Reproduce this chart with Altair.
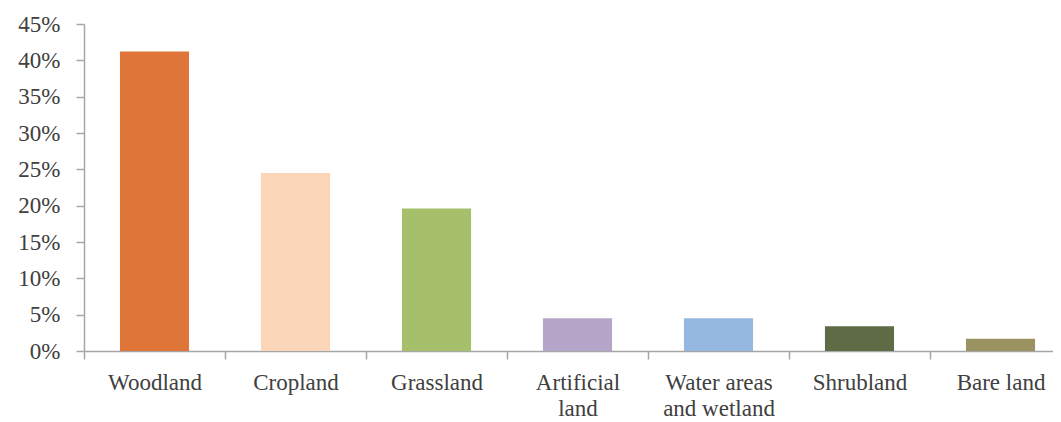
import altair as alt
import pandas as pd

categories = ["Woodland", "Cropland", "Grassland", "Artificial land",
              "Water areas and wetland", "Shrubland", "Bare land"]
label_lines = [["Woodland"], ["Cropland"], ["Grassland"], ["Artificial", "land"],
               ["Water areas", "and wetland"], ["Shrubland"], ["Bare land"]]
shares = [0.412, 0.245, 0.196, 0.045, 0.045, 0.034, 0.017]
colors = ["#E07539", "#FAD5B7", "#A5BF6A", "#B5A5C9", "#95B8E0", "#5E6B45", "#9B9262"]
y_ticks = [0, 0.05, 0.10, 0.15, 0.20, 0.25, 0.30, 0.35, 0.40, 0.45]

df = pd.DataFrame({"category": categories, "share": shares, "idx": list(range(len(categories)))})

# category slots: boundaries at integers, centers at +0.5 (the last slot runs past the right edge)
x_values = [i * 0.5 for i in range(2 * len(categories))]
arr = "[" + ",".join("[" + ",".join("'" + s + "'" for s in lines) + "]" for lines in label_lines) + "]"
label_expr = f"datum.value % 1 == 0 ? '' : {arr}[floor(datum.value)]"

font = "Liberation Serif"
axis_color = "#A6A6A6"
text_color = "#404040"
fs = 23
plot_w = 969
slot = 141

chart = alt.Chart(df).transform_calculate(
    x0="datum.idx + 0.255", x1="datum.idx + 0.745"
).mark_bar(orient="vertical").encode(
    x=alt.X("x0:Q", scale=alt.Scale(domain=[0, plot_w / slot], nice=False, zero=False, padding=0),
            axis=alt.Axis(title=None, values=x_values, labelExpr=label_expr,
                          labelAngle=0, tickSize=8, labelPadding=12, labelLineHeight=26,
                          labelFont=font, labelFontSize=fs, labelColor=text_color,
                          labelBaseline="top", labelAlign="center", labelOverlap=False,
                          labelFlush=False, grid=False,
                          tickOpacity={"condition": {"test": "datum.value % 1 == 0", "value": 1}, "value": 0},
                          domainColor=axis_color, tickColor=axis_color, domainWidth=1.5,
                          tickWidth=1.5)),
    x2="x1:Q",
    y=alt.Y("share:Q", scale=alt.Scale(domain=[0, 0.45], nice=False, padding=0),
            axis=alt.Axis(title=None, values=y_ticks, format=".0%", grid=False,
                          tickSize=8, labelPadding=16, labelFont=font, labelFontSize=fs,
                          labelColor=text_color, domainColor=axis_color, tickColor=axis_color,
                          domainWidth=1.5, tickWidth=1.5)),
    y2=alt.datum(0),
    color=alt.Color("category:N", sort=categories,
                    scale=alt.Scale(domain=categories, range=colors), legend=None),
    tooltip=["category:N", alt.Tooltip("share:Q", format=".1%")],
).properties(
    width=plot_w, height=327,
    autosize=alt.AutoSizeParams(type="none"),
    padding={"left": 76, "right": 0, "top": 16, "bottom": 70},
).configure_view(stroke=None)

chart.save("out.html", embed_options={"renderer": "svg", "actions": False})
